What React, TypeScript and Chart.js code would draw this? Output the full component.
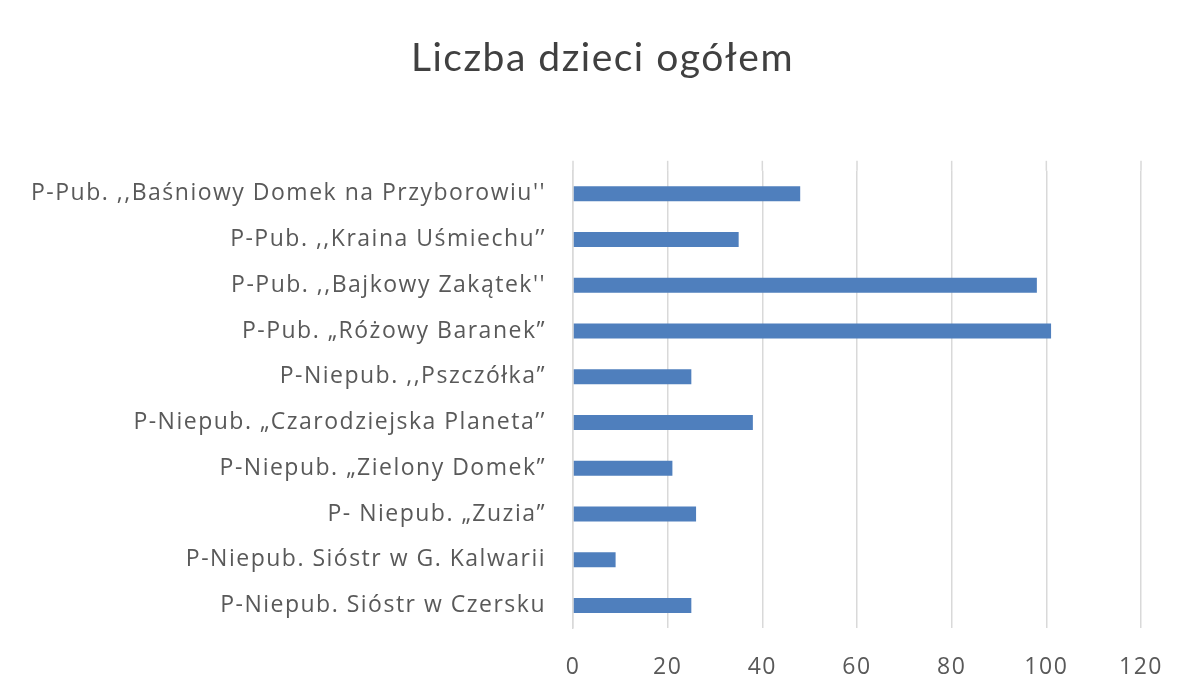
import React, { useEffect, useRef } from "react";
import { Chart, registerables } from "chart.js";

Chart.register(...registerables);

const categories = [
  "P-Pub. ,,Baśniowy Domek na Przyborowiu''",
  "P-Pub. ,,Kraina Uśmiechu’’",
  "P-Pub. ,,Bajkowy Zakątek''",
  "P-Pub. „Różowy Baranek”",
  "P-Niepub. ,,Pszczółka”",
  "P-Niepub. „Czarodziejska Planeta’’",
  "P-Niepub. „Zielony Domek”",
  "P- Niepub. „Zuzia”",
  "P-Niepub. Sióstr w G. Kalwarii",
  "P-Niepub. Sióstr w Czersku",
];

const values = [48, 35, 98, 101, 25, 38, 21, 26, 9, 25];

const xTicks = [0, 20, 40, 60, 80, 100, 120];

const title = "Liczba dzieci ogółem";

const GRID = "#d9d9d9";

const spacingPlugin = {
  id: "spacing",
  afterLayout(chart: any) {
    const t = chart.titleBlock;
    if (t) {
      t.left += 32;
      t.right += 32;
    }
  },
  beforeDraw(chart: any) {
    try {
      chart.ctx.letterSpacing = "1.5px";
    } catch (e) {}
  },
};

const gridExtend = {
  id: "gridExtend",
  beforeDatasetsDraw(chart: any) {
    const { ctx, chartArea, scales } = chart;
    const x = scales.x;
    ctx.save();
    ctx.strokeStyle = GRID;
    ctx.lineWidth = 1.5;
    x.ticks.forEach((t: any) => {
      const px = x.getPixelForValue(t.value);
      ctx.beginPath();
      ctx.moveTo(px, chartArea.top - 10);
      ctx.lineTo(px, chartArea.top);
      ctx.stroke();
    });
    ctx.restore();
  },
};

export default function App() {
  const ref = useRef<HTMLCanvasElement | null>(null);

  useEffect(() => {
    document.body.style.margin = "0";
    const ctx = ref.current!;
    const chart = new Chart(ctx, {
      type: "bar",
      data: {
        labels: categories,
        datasets: [
          {
            data: values,
            backgroundColor: "#4f7fbd",
            borderWidth: 0,
            barPercentage: 0.33,
            categoryPercentage: 1,
          },
        ],
      },
      plugins: [spacingPlugin, gridExtend],
      options: {
        indexAxis: "y",
        animation: false,
        responsive: false,
        maintainAspectRatio: false,
        layout: { padding: { left: 0, right: 44, top: 0, bottom: 12 } },
        plugins: {
          legend: { display: false },
          tooltip: { enabled: false },
          title: {
            display: true,
            text: title,
            color: "#404040",
            font: { family: "Lato", size: 39, weight: "normal" },
            padding: { top: 35, bottom: 89 },
          },
        },
        scales: {
          x: {
            min: 0,
            max: 120,
            afterBuildTicks: (s: any) => {
              s.ticks = xTicks.map((v) => ({ value: v }));
            },
            grid: {
              color: GRID,
              lineWidth: 1.5,
              drawTicks: true,
              tickLength: 25,
              tickColor: "rgba(0,0,0,0)",
            },
            border: { display: false },
            ticks: {
              color: "#595959",
              font: { family: "Open Sans", size: 23 },
              padding: 0,
              maxRotation: 0,
            },
          },
          y: {
            afterFit: (s: any) => {
              s.width = 573;
            },
            grid: { display: false, drawTicks: false },
            border: { display: true, color: GRID, width: 1.5 },
            ticks: {
              color: "#595959",
              font: { family: "Open Sans", size: 23 },
              padding: 27,
              autoSkip: false,
            },
          },
        },
      },
    });
    return () => chart.destroy();
  }, []);

  return (
    <div style={{ width: 1185, height: 693, background: "#fff" }}>
      <canvas ref={ref} width={1185} height={693} />
    </div>
  );
}
